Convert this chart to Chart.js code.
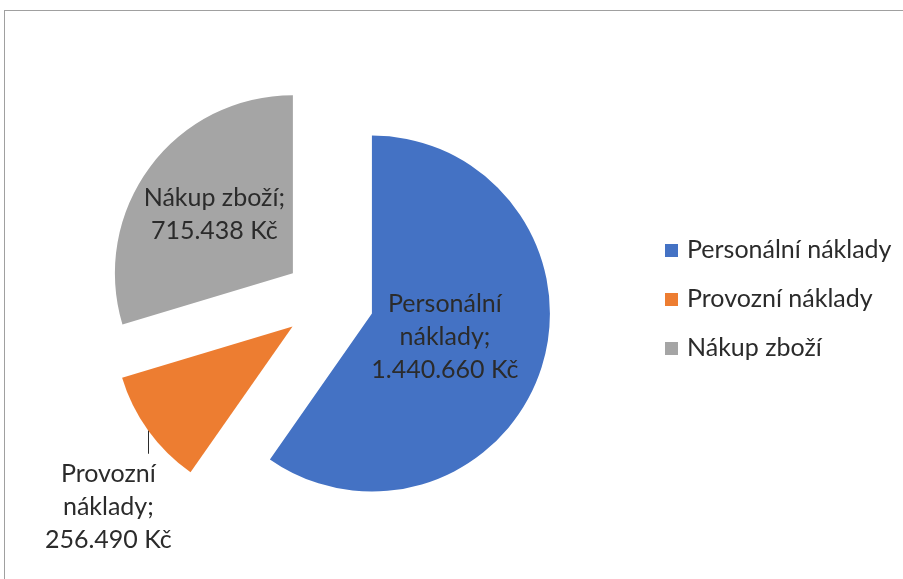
<!DOCTYPE html>
<html lang="cs">
<head>
<meta charset="utf-8">
<title>Náklady</title>
<script src="https://cdn.jsdelivr.net/npm/chart.js@4"></script>
<style>
  html, body { margin: 0; padding: 0; background: #fff; overflow: hidden; }
  .frame { position: absolute; left: 4px; top: 10px; width: 1000px; height: 1000px;
           border-left: 1px solid #a0a0a0; border-top: 1px solid #a0a0a0; }
  canvas { position: absolute; left: 0; top: 0; }
</style>
</head>
<body>
<div class="frame"></div>
<canvas id="chart" width="903" height="579"></canvas>
<script>
const categories = ['Personální náklady', 'Provozní náklady', 'Nákup zboží'];
const costs = [1440660, 256490, 715438];
const colors = ['#4472c4', '#ed7d31', '#a5a5a5'];

// where each data label sits: inside at a fraction of the radius, or outside with a leader line
const labelPlace = [
    { inside: true, at: 0.43 },
    { inside: false, leader: 23, dx: -40, dy: 76 },
    { inside: true, at: 0.55 }
];

const EXPLODE = 45;
const FONT = '25px Lato';
const TEXT = '#2b2b2b';
const LINE_H = 33;

function kc(v) {
    return String(v).replace(/\B(?=(\d{3})+(?!\d))/g, '.') + ' Kč';
}

function wrap(ctx, text, maxW) {
    const lines = [];
    let cur = '';
    text.split(' ').forEach(w => {
        const t = cur ? cur + ' ' + w : w;
        if (cur && ctx.measureText(t).width > maxW) { lines.push(cur); cur = w; }
        else cur = t;
    });
    lines.push(cur);
    return lines;
}

function shift(arc) {
    const mid = (arc.startAngle + arc.endAngle) / 2;
    return { dx: Math.cos(mid) * EXPLODE, dy: Math.sin(mid) * EXPLODE, mid };
}

// pull every slice out along its bisector (pure translation, radius unchanged)
const explodePlugin = {
    id: 'explode',
    beforeDatasetDraw(chart, args) {
        const ctx = chart.ctx;
        args.meta.data.forEach(arc => {
            const s = shift(arc);
            ctx.save();
            ctx.translate(s.dx, s.dy);
            arc.draw(ctx);
            ctx.restore();
        });
        return false;
    }
};

const labelPlugin = {
    id: 'sliceLabels',
    afterDatasetsDraw(chart) {
        const ctx = chart.ctx;
        const meta = chart.getDatasetMeta(0);
        ctx.save();
        ctx.font = FONT;
        ctx.fillStyle = TEXT;
        ctx.strokeStyle = TEXT;
        ctx.lineWidth = 1;
        ctx.textAlign = 'center';
        ctx.textBaseline = 'middle';
        meta.data.forEach((arc, i) => {
            const s = shift(arc);
            const cx = arc.x + s.dx, cy = arc.y + s.dy;
            const r = arc.outerRadius;
            const lines = wrap(ctx, categories[i] + ';', 150);
            lines.push(kc(costs[i]));
            const p = labelPlace[i];
            let x, y;
            if (p.inside) {
                x = cx + Math.cos(s.mid) * r * p.at;
                y = cy + Math.sin(s.mid) * r * p.at;
            } else {
                const ax = cx + Math.cos(s.mid) * r;
                const ay = cy + Math.sin(s.mid) * r;
                ctx.beginPath();
                ctx.moveTo(Math.round(ax) + 0.5, ay);
                ctx.lineTo(Math.round(ax) + 0.5, ay + p.leader);
                ctx.stroke();
                x = ax + p.dx;
                y = ay + p.dy;
            }
            lines.forEach((t, k) => ctx.fillText(t, x, y + (k - (lines.length - 1) / 2) * LINE_H));
        });
        ctx.restore();
    }
};

const legendPlugin = {
    id: 'sideLegend',
    afterDraw(chart) {
        const ctx = chart.ctx;
        const ds = chart.data.datasets[0];
        ctx.save();
        ctx.font = FONT;
        ctx.textAlign = 'left';
        ctx.textBaseline = 'middle';
        chart.data.labels.forEach((lab, i) => {
            const y = 250 + i * 49;
            ctx.fillStyle = ds.backgroundColor[i];
            ctx.fillRect(665, y - 6, 13, 13);
            ctx.fillStyle = TEXT;
            ctx.fillText(lab, 687, y);
        });
        ctx.restore();
    }
};

new Chart(document.getElementById('chart'), {
    type: 'pie',
    data: {
        labels: categories,
        datasets: [{
            data: costs,
            backgroundColor: colors,
            borderWidth: 0
        }]
    },
    options: {
        responsive: false,
        animation: false,
        radius: 178,
        layout: { padding: { left: 129, right: 374, top: 100, bottom: 79 } },
        plugins: {
            legend: { display: false },
            tooltip: { enabled: false }
        }
    },
    plugins: [explodePlugin, labelPlugin, legendPlugin]
});
</script>
</body>
</html>
